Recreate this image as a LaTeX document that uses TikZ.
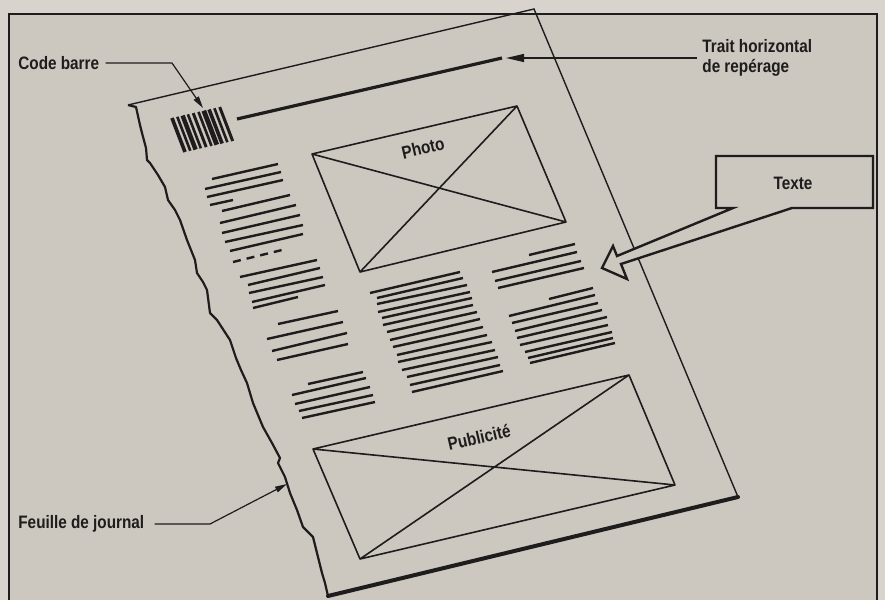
\documentclass[tikz,border=0pt]{standalone}
\usepackage{fontspec}
\newfontfamily\labelfont{Liberation Sans}[FakeStretch=0.85]
\usetikzlibrary{arrows.meta,positioning}

\definecolor{scanbg}{RGB}{216,212,205}
\definecolor{panelbg}{RGB}{204,199,191}
\definecolor{ink}{RGB}{30,28,28}

\begin{document}
\begin{tikzpicture}[x=0.5pt, y=-0.5pt,
  lbl/.style={font=\labelfont\bfseries\fontsize{9}{10}\selectfont, text=ink, inner sep=0pt},
  paperedge/.style={draw=ink, line width=0.7pt},
  textline/.style={draw=ink, line width=1.2pt},
  leader/.style={draw=ink, line width=0.6pt, -{Triangle[length=6pt,width=3pt]}},
  crossbox/.style={draw=ink, line width=0.8pt, line join=round}]
  \useasboundingbox (0,0) rectangle (885,600);
  % background and frame
  \fill[scanbg] (0,0) rectangle (885,600);
  \fill[panelbg] (9,14) rectangle (877,600);
  \draw[ink, line width=0.8pt] (9,600) -- (9,14) -- (877,14) -- (877,600);

  % the sheet
  \coordinate (sTL) at (128,105);
  \coordinate (sTR) at (534,9);
  \coordinate (sBR) at (738,497);
  \coordinate (sBL) at (328,596);
  \draw[paperedge] (sTL) -- (sTR) -- (sBR);
  \draw[ink, line width=2pt, line cap=round] (sBR) -- (sBL);
  \draw[ink, line width=1.1pt, line join=round] (sTL) -- (136,107) -- (140,125) -- (142,133)
    -- (146,148) -- (147,160) -- (150,163) -- (158,175) -- (165,187) -- (168,200)
    -- (175,210) -- (180,220) -- (187,240) -- (195,260) -- (197,273) -- (203,282)
    -- (207,290) -- (210,313) -- (217,320) -- (230,340) -- (236,358) -- (241,370)
    -- (247,383) -- (253,403) -- (263,427) -- (272,443) -- (280,458) -- (278,463)
    -- (285,477) -- (290,493) -- (297,510) -- (303,527) -- (313,537) -- (317,553)
    -- (322,573) -- (325,583) -- (sBL);

  % bar code and marker line
  \foreach \i/\w in {0/1.8,1/1.3,2/2.2,3/1.3,4/1.5,5/1.3,6/2.4,7/1.8,8/1.3,9/1.5}
    \draw[ink, line width=\w pt] ({172+5.3*\i},{118-1.22*\i}) -- ++(13,34);
  \draw[ink, line width=1.6pt] (237,119) -- (502,58);

  % photo
  \coordinate (phTL) at (312,154);
  \coordinate (phTR) at (517,106);
  \coordinate (phBR) at (566,222);
  \coordinate (phBL) at (360,272);
  \draw[crossbox] (phTL) -- (phTR) -- (phBR) -- (phBL) -- cycle
    (phTL) -- (phBR) (phTR) -- (phBL);
  \node[lbl, rotate=13] (photo) at (423,148) {Photo};

  % publicite
  \coordinate (puTL) at (313,449);
  \coordinate (puTR) at (629,375);
  \coordinate (puBR) at (675,485);
  \coordinate (puBL) at (360,559);
  \draw[crossbox] (puTL) -- (puTR) -- (puBR) -- (puBL) -- cycle
    (puTL) -- (puBR) (puTR) -- (puBL);
  \node[lbl, rotate=13] (pub) at (479,437) {Publicité};

  % columns of text
  \foreach \xa/\ya/\xb/\yb in {212/179/278/164, 205/189/281/172, 207/197/283/180,
      210/205/233/200, 222/211/290/195, 220/223/296/205, 222/233/300/215,
      225/242/303/225, 230/251/303/234,
      240/277/317/260, 248/285/320/268, 249/293/323/277, 252/302/325/285, 253/308/298/297,
      278/324/338/311, 267/339/343/322, 272/351/347/333, 277/360/348/344,
      308/384/363/372, 292/395/366/378, 295/404/370/387, 299/411/373/395, 302/418/375/402}
    \draw[textline] (\xa,\ya) -- (\xb,\yb);
  \draw[textline, dash pattern=on 4pt off 3pt] (233,262) -- (282,250);
  \foreach \xa/\ya/\xb/\yb in {370/293/460/272, 377/298/463/278, 377/304/467/285,
      378/312/470/292, 382/318/472/298, 383/325/473/305, 387/332/477/312,
      390/340/480/319, 393/347/483/327, 397/355/487/335, 398/362/492/342,
      402/370/495/350, 407/377/498/357, 410/385/500/365, 412/392/503/371}
    \draw[textline] (\xa,\ya) -- (\xb,\yb);
  \foreach \xa/\ya/\xb/\yb in {529/255/575/244, 492/272/577/252, 495/281/581/261,
      498/288/584/268,
      549/299/593/288, 509/316/595/295, 512/323/598/303, 515/331/602/310,
      517/338/607/317, 520/345/608/325, 525/352/612/332, 528/358/613/338, 530/363/615/343}
    \draw[textline] (\xa,\ya) -- (\xb,\yb);

  % labels and leaders
  \node[lbl, anchor=west] (codebarre) at (18,63) {Code barre};
  \coordinate (cbbend) at (172,63);
  \coordinate (cbtip) at (203,108);
  \draw[leader] ([xshift=3pt]codebarre.east) -- (cbbend) -- (cbtip);

  \node[lbl, anchor=west, align=left] (trait) at (702,58) {Trait horizontal\\de repérage};
  \coordinate (traittip) at (506,58);
  \draw[leader, -{Triangle[length=9pt,width=4pt]}] ([xshift=-2.5pt]trait.west) -- (traittip);

  \node[lbl, anchor=west] (feuille) at (18,524) {Feuille de journal};
  \coordinate (fjbend) at (210,524);
  \coordinate (fjtip) at (287,484);
  \draw[leader] ([xshift=5pt]feuille.east) -- (fjbend) -- (fjtip);

  % callout
  \draw[ink, line width=1.2pt, fill=panelbg, line join=miter]
    (716,156) -- (873,156) -- (873,208) -- (792,208) -- (621,264) -- (627,279)
    -- (602,268) -- (613,246) -- (617,256) -- (733,208) -- (716,208) -- cycle;
  \node[lbl] (texte) at (793,183) {Texte};
\end{tikzpicture}
\end{document}
